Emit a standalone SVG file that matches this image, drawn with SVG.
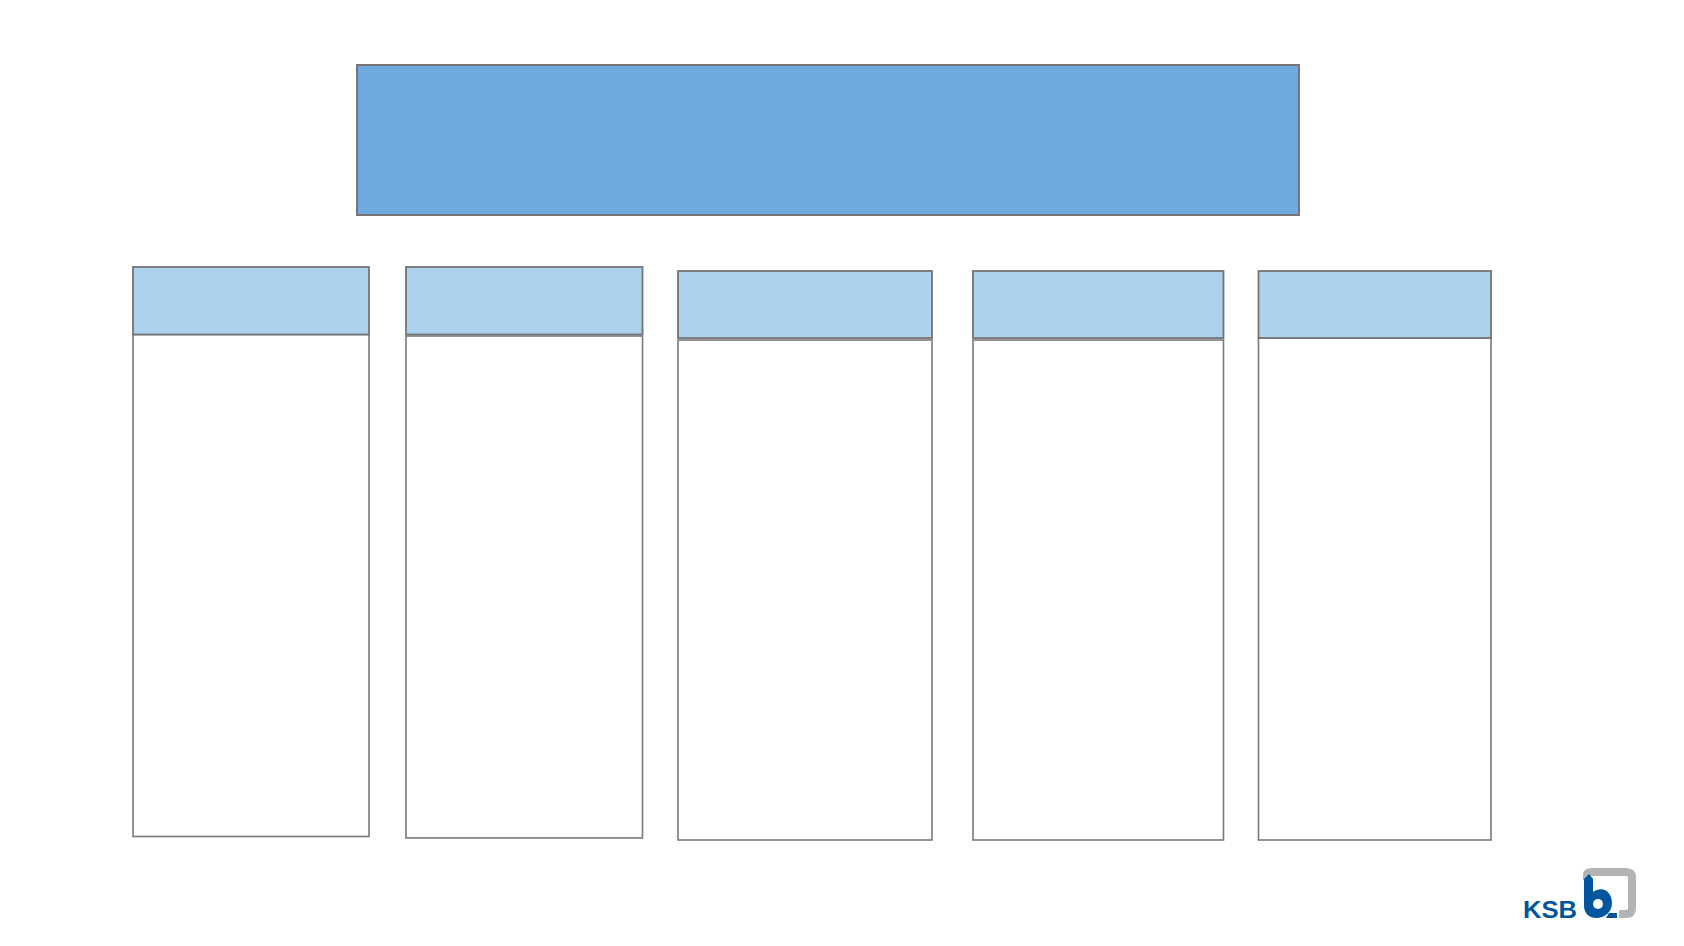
<svg xmlns="http://www.w3.org/2000/svg" width="1684" height="946" viewBox="0 0 1684 946">
<style>
.b{fill:#fff;stroke:#7a7a7a;stroke-width:1.6}
.h{fill:#acd2ee;stroke:#747474;stroke-width:1.8}
.t{fill:#70a9df;stroke:#767676;stroke-width:2}
</style>
<rect width="1684" height="946" fill="#fff"/>
<g id="title"><rect class="t" x="357" y="65" width="942" height="150"/></g>
<g id="col1"><rect class="b" x="133" y="334.5" width="236" height="502"/><rect class="h" x="133" y="267" width="236" height="67.5"/></g>
<g id="col2"><rect class="b" x="406" y="336" width="236.5" height="502"/><rect class="h" x="406" y="267" width="236.5" height="67.5"/></g>
<g id="col3"><rect class="b" x="678" y="340" width="254" height="500"/><rect class="h" x="678" y="271" width="254" height="67"/></g>
<g id="col4"><rect class="b" x="973" y="340" width="250.5" height="500"/><rect class="h" x="973" y="271" width="250.5" height="67"/></g>
<g id="col5"><rect class="b" x="1258.500" y="338" width="232.500" height="502"/><rect class="h" x="1258.500" y="271" width="232.500" height="67"/></g>
<g id="logo">
<path d="M1587 880V875Q1587 872 1592 872H1626Q1632 872 1632 878V908Q1632 914 1626 914H1619" fill="none" stroke="#b2b4b6" stroke-width="8"/>
<path d="M1584 879L1589 874L1593 879V892C1603 885 1612 892 1612 903C1612 911 1606 918 1596 918C1589 918 1584 913 1584 906Z" fill="#00559f"/>
<circle cx="1598" cy="904" r="5" fill="#fff"/>
<path d="M1609 913H1617V918H1606Z" fill="#00559f"/>
<text x="1523" y="917.500" font-family="Liberation Sans, Arial, sans-serif" font-weight="700" font-size="24" fill="#00559f" textLength="54" lengthAdjust="spacingAndGlyphs">KSB</text>
</g>
</svg>
